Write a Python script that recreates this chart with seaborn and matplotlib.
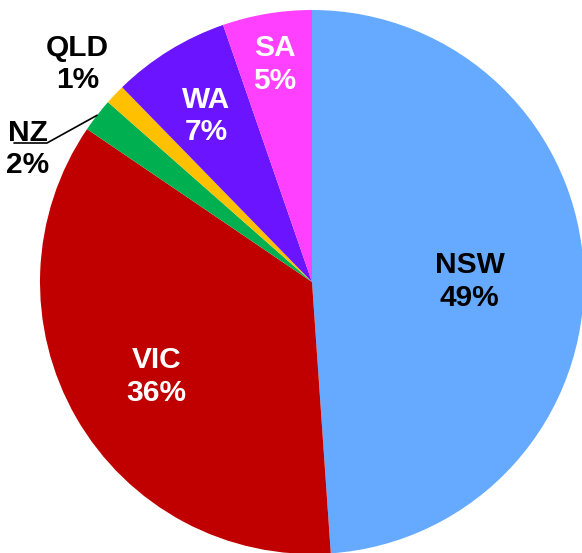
import numpy as np
import matplotlib
matplotlib.use("Agg")
import matplotlib.pyplot as plt
import seaborn as sns

# ==============================
# Data
# ==============================
regions = ["NSW", "VIC", "NZ", "QLD", "WA", "SA"]
shares = [48.9, 35.6, 2.0, 1.2, 7.0, 5.3]
colors = ["#66AAFF", "#C00000", "#00B050", "#FFC000", "#6A14FF", "#FF40FF"]
label_colors = ["black", "white", "black", "black", "white", "white"]
label_dist = [0.58, 0.66, None, 1.19, 0.74, 0.83]

# ==============================
# Style
# ==============================
sns.set_theme(style="white")
plt.rcParams["font.family"] = ["Liberation Sans", "DejaVu Sans"]

W, H = 582, 553
CX, CY, R = 312, H - 282, 272
FS = 21.5
DY = -5  # nudge labels down a touch

fig = plt.figure(figsize=(W / 100, H / 100), dpi=100)
ax = fig.add_axes([0, 0, 1, 1])

wedges, _ = ax.pie(
    shares,
    colors=sns.color_palette(colors),
    startangle=90,
    counterclock=False,
    center=(CX, CY),
    radius=R,
    wedgeprops=dict(linewidth=0),
    frame=True,
)
ax.set_xlim(0, W)
ax.set_ylim(0, H)
ax.axis("off")

# ==============================
# Labels
# ==============================
for w, name, val, col, d in zip(wedges, regions, shares, label_colors, label_dist):
    mid = np.deg2rad((w.theta1 + w.theta2) / 2)
    txt = f"{name}\n{val:.0f}%"
    if d is None:
        # NZ: outside label with leader line
        ex, ey = CX + R * np.cos(mid), CY + R * np.sin(mid)
        kx, ky = 47, H - 143
        ax.plot([ex, kx, 14], [ey, ky, ky], color="black", lw=1.2)
        ax.text(28, H - 144 + DY, txt, ha="center", va="center", color=col,
                fontsize=FS, fontweight="bold", linespacing=1.2)
        continue
    tx, ty = CX + d * R * np.cos(mid), CY + d * R * np.sin(mid) + DY
    ax.text(tx, ty, txt, ha="center", va="center", color=col,
            fontsize=FS, fontweight="bold", linespacing=1.2)

plt.savefig("out.png", dpi=100)
plt.close()
